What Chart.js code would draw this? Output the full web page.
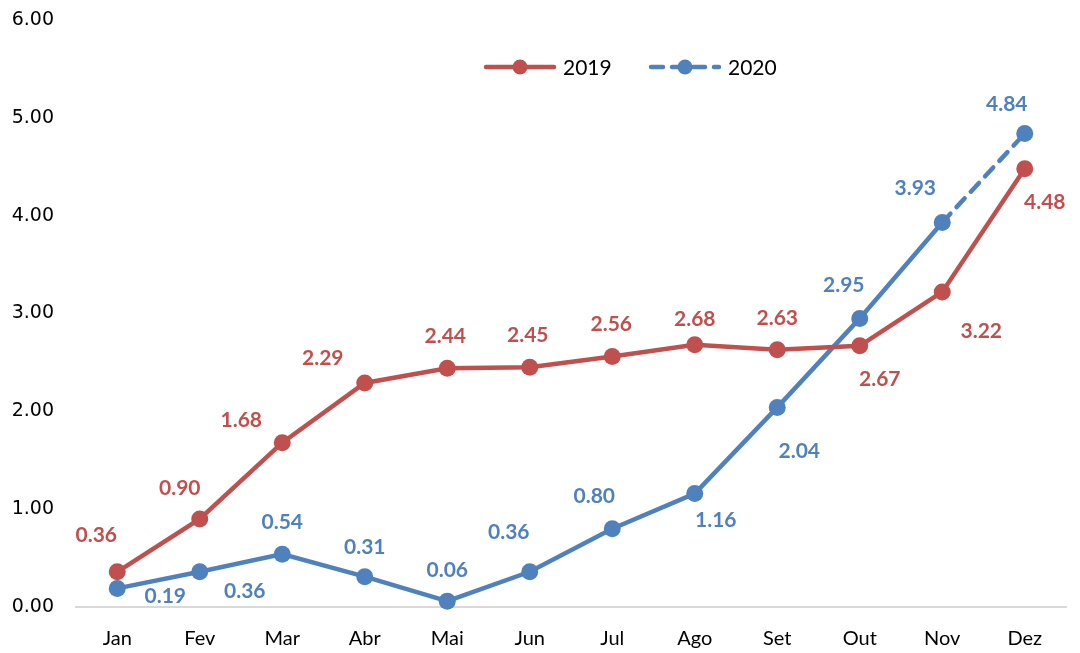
<!DOCTYPE html>
<html>
<head>
<meta charset="utf-8">
<script src="https://cdn.jsdelivr.net/npm/chart.js@4"></script>
<style>
  html, body { margin: 0; padding: 0; background: #fff; }
  #wrap { width: 1080px; height: 653px; position: relative; }
</style>
</head>
<body>
<div id="wrap"><canvas id="myChart"></canvas></div>
<script>
const months = ["Jan", "Fev", "Mar", "Abr", "Mai", "Jun", "Jul", "Ago", "Set", "Out", "Nov", "Dez"];
const values2019 = [0.36, 0.90, 1.68, 2.29, 2.44, 2.45, 2.56, 2.68, 2.63, 2.67, 3.22, 4.48];
const values2020 = [0.19, 0.36, 0.54, 0.31, 0.06, 0.36, 0.80, 1.16, 2.04, 2.95, 3.93, 4.84];
const yTicks = [0, 1, 2, 3, 4, 5, 6];

const RED = "#C0504D";
const BLUE = "#4F81BD";

// label offsets from the point (dx, dy)
const offs2019 = [[-21,-37],[-20,-31],[-41,-22],[-42,-25],[-2,-32],[-2,-32],[-1,-32],[0,-26],[0,-31],[20,33],[39,39],[20,34]];
const offs2020 = [[48,8],[45,19],[0,-32],[0,-29],[0,-31],[-21,-40],[-18,-32],[21,27],[22,44],[-16,-33],[-27,-34],[-18,-29]];

const labelPlugin = {
  id: "pointLabels",
  afterDatasetsDraw(chart) {
    const ctx = chart.ctx;
    ctx.save();
    ctx.font = "bold 21px Lato";
    ctx.textAlign = "center";
    ctx.textBaseline = "middle";
    chart.data.datasets.forEach((ds, i) => {
      const meta = chart.getDatasetMeta(i);
      const offs = i === 0 ? offs2019 : offs2020;
      ctx.fillStyle = ds.borderColor;
      meta.data.forEach((pt, j) => {
        ctx.fillText(ds.data[j].toFixed(2), pt.x + offs[j][0], pt.y + offs[j][1]);
      });
    });
    ctx.restore();
  }
};

const legendPlugin = {
  id: "customLegend",
  afterDraw(chart) {
    const ctx = chart.ctx;
    const y = 67;
    const items = [
      { x: 486, ds: chart.data.datasets[0], dash: [] },
      { x: 651, ds: chart.data.datasets[1], dash: [12, 9] }
    ];
    ctx.save();
    items.forEach(it => {
      ctx.strokeStyle = it.ds.borderColor;
      ctx.lineWidth = 4.5;
      ctx.lineCap = "round";
      ctx.setLineDash(it.dash);
      ctx.beginPath();
      ctx.moveTo(it.x, y);
      ctx.lineTo(it.x + 68, y);
      ctx.stroke();
      ctx.setLineDash([]);
      ctx.fillStyle = it.ds.borderColor;
      ctx.beginPath();
      ctx.arc(it.x + 34, y, 7.5, 0, Math.PI * 2);
      ctx.fill();
      ctx.fillStyle = "#000";
      ctx.font = "21px Lato";
      ctx.textAlign = "left";
      ctx.textBaseline = "middle";
      ctx.fillText(it.ds.label, it.x + 77, y + 1);
    });
    ctx.restore();
  }
};

const ctx = document.getElementById("myChart").getContext("2d");
new Chart(ctx, {
  type: "line",
  data: {
    labels: months,
    datasets: [
      {
        label: "2019",
        data: values2019,
        borderColor: RED,
        backgroundColor: RED,
        borderWidth: 4.5,
        pointRadius: 8.5,
        pointHoverRadius: 8.5,
        pointBorderWidth: 0,
        tension: 0,
        clip: false
      },
      {
        label: "2020",
        data: values2020,
        borderColor: BLUE,
        backgroundColor: BLUE,
        borderWidth: 4.5,
        pointRadius: 8.5,
        pointHoverRadius: 8.5,
        pointBorderWidth: 0,
        tension: 0,
        clip: false,
        borderCapStyle: "round",
        segment: {
          borderDash: c => (c.p0DataIndex === 10 ? [12, 9] : undefined)
        }
      }
    ]
  },
  options: {
    responsive: true,
    maintainAspectRatio: false,
    animation: false,
    layout: { autoPadding: false, padding: { top: 20, right: 14, left: 0, bottom: 0 } },
    plugins: {
      legend: { display: false },
      tooltip: { enabled: false }
    },
    scales: {
      x: {
        offset: true,
        afterFit: s => { s.height = 46; },
        grid: { display: false, drawTicks: false },
        border: { display: true, color: "#d9d9d9", width: 2 },
        ticks: { color: "#000", font: { family: "Lato", size: 20 }, padding: 20 }
      },
      y: {
        min: 0,
        max: 6,
        afterFit: s => { s.width = 76; s.paddingTop = 0; },
        afterBuildTicks: s => { s.ticks = yTicks.map(v => ({ value: v })); },
        grid: { display: false, drawTicks: false },
        border: { display: false },
        ticks: {
          color: "#000",
          font: { family: "'DejaVu Sans'", size: 19 },
          padding: 22,
          callback: v => Number(v).toFixed(2)
        }
      }
    }
  },
  plugins: [labelPlugin, legendPlugin]
});
</script>
</body>
</html>
